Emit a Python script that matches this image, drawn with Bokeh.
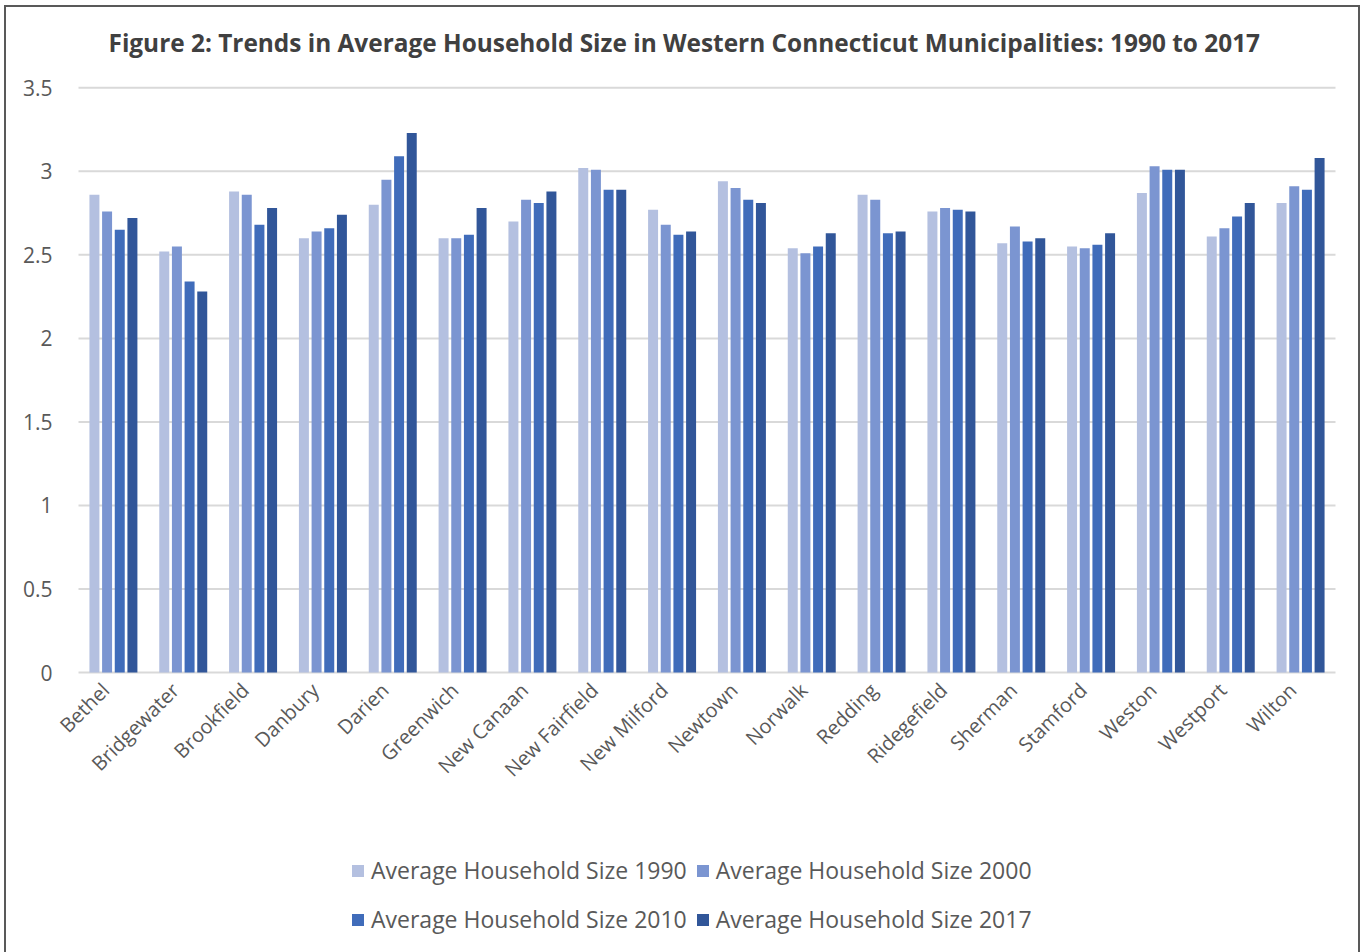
import math
from bokeh.plotting import figure
from bokeh.models import (ColumnDataSource, Range1d, Legend, LegendItem, Label)
from bokeh.core.properties import value
from bokeh.embed import file_html
from bokeh.resources import INLINE

towns = ["Bethel", "Bridgewater", "Brookfield", "Danbury", "Darien", "Greenwich",
         "New Canaan", "New Fairfield", "New Milford", "Newtown", "Norwalk", "Redding",
         "Ridegefield", "Sherman", "Stamford", "Weston", "Westport", "Wilton"]
v1990 = [2.86, 2.52, 2.88, 2.60, 2.80, 2.60, 2.70, 3.02, 2.77, 2.94, 2.54, 2.86, 2.76, 2.57, 2.55, 2.87, 2.61, 2.81]
v2000 = [2.76, 2.55, 2.86, 2.64, 2.95, 2.60, 2.83, 3.01, 2.68, 2.90, 2.51, 2.83, 2.78, 2.67, 2.54, 3.03, 2.66, 2.91]
v2010 = [2.65, 2.34, 2.68, 2.66, 3.09, 2.62, 2.81, 2.89, 2.62, 2.83, 2.55, 2.63, 2.77, 2.58, 2.56, 3.01, 2.73, 2.89]
v2017 = [2.72, 2.28, 2.78, 2.74, 3.23, 2.78, 2.88, 2.89, 2.64, 2.81, 2.63, 2.64, 2.76, 2.60, 2.63, 3.01, 2.81, 3.08]
series_names = ["Average Household Size 1990", "Average Household Size 2000",
                "Average Household Size 2010", "Average Household Size 2017"]
colors = ["#B4C0E0", "#7B95D1", "#406CBA", "#315699"]
y_ticks = [0, 0.5, 1, 1.5, 2, 2.5, 3, 3.5]
y_tick_labels = ["0", "0.5", "1", "1.5", "2", "2.5", "3", "3.5"]
title_text = "Figure 2: Trends in Average Household Size in Western Connecticut Municipalities: 1990 to 2017"

FONT = "Open Sans"
N = len(towns)

# The frame covers the whole canvas; the value area 0..3.5 x 0..N maps to page box x 78..1335, y 672..87
PX_Y = (672 - 87.3) / 3.5
PX_X = (1335 - 78) / N
y_lo = -(957 - 672) / PX_Y
y_hi = 3.5 + (87.3 - 7) / PX_Y
x_lo = -(78 - 6) / PX_X
x_hi = N + (1362 - 1335) / PX_X

p = figure(width=1356, height=950, output_backend="svg", toolbar_location=None,
           x_range=Range1d(x_lo, x_hi), y_range=Range1d(y_lo, y_hi),
           min_border_left=0, min_border_right=0, min_border_top=0, min_border_bottom=0)
p.styles = {"border": "2px solid #595959", "margin-left": "4px", "margin-top": "5px"}
p.outline_line_color = None
p.background_fill_color = "white"
p.border_fill_color = "white"
p.xaxis.visible = False
p.yaxis.visible = False
p.xgrid.visible = False
p.ygrid.visible = False

# value gridlines
p.segment(x0=[0] * len(y_ticks), x1=[N] * len(y_ticks), y0=y_ticks, y1=y_ticks,
          line_color="#D9D9D9", line_width=2)

# y tick labels
p.text(x=[0] * len(y_ticks), y=y_ticks, text=y_tick_labels, x_offset=-26,
       text_align="right", text_baseline="middle",
       text_font=value(FONT), text_font_size="21px", text_color="#595959")

pitch = 0.1814
bw = 0.143
offsets = [-1.5 * pitch, -0.5 * pitch, 0.5 * pitch, 1.5 * pitch]
renderers = []
for vals, off, col in zip([v1990, v2000, v2010, v2017], offsets, colors):
    src = ColumnDataSource(dict(x=[i + 0.5 + off for i in range(N)], top=vals))
    r = p.vbar(x="x", top="top", width=bw, bottom=0, source=src, fill_color=col, line_color=None)
    renderers.append(r)

# category labels
lab_src = ColumnDataSource(dict(x=[i + 0.5 for i in range(N)], y=[0] * N, t=towns))
p.text(x="x", y="y", text="t", source=lab_src, angle=math.pi / 4,
       text_align="right", text_baseline="middle", x_offset=-8, y_offset=14,
       text_font=value(FONT), text_font_size="20px", text_color="#595959")

title = Label(x=102, y=957 - 42, x_units="screen", y_units="screen", text=title_text,
              text_font=FONT, text_font_size="24.4px", text_font_style="bold",
              text_color="#404040", text_align="left", text_baseline="middle")
p.add_layout(title)

def make_legend(idx, loc):
    lg = Legend(items=[LegendItem(label=series_names[i], renderers=[renderers[i]]) for i in idx],
                location=loc, orientation="horizontal")
    lg.border_line_color = None
    lg.background_fill_alpha = 0
    lg.label_text_font = FONT
    lg.label_text_font_size = "23px"
    lg.label_text_color = "#595959"
    lg.glyph_width = 15
    lg.glyph_height = 15
    lg.label_standoff = 6
    lg.spacing = 8
    lg.padding = 0
    lg.margin = 0
    return lg

p.add_layout(make_legend([0, 1], (344, 957 - 886)))
p.add_layout(make_legend([2, 3], (344, 957 - 935)))

open("out.html", "w").write(file_html(p, INLINE))
